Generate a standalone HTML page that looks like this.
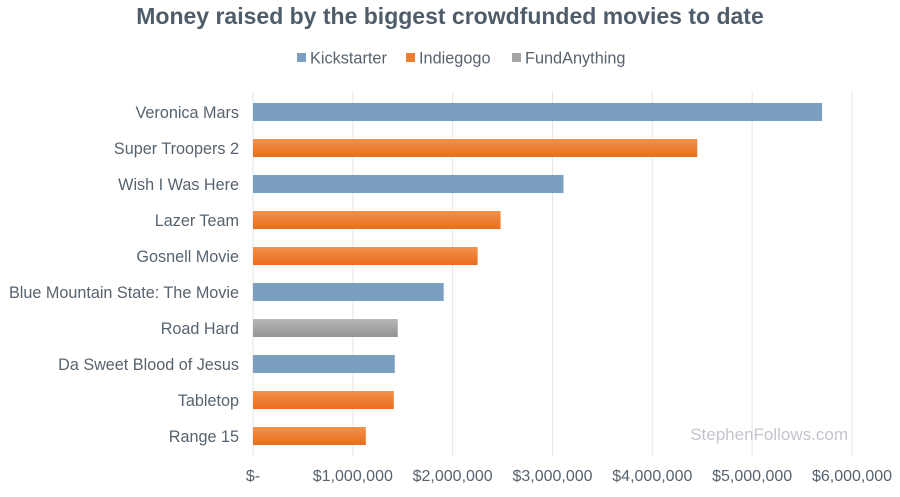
<!DOCTYPE html>
<html><head><meta charset="utf-8"><style>
body{margin:0;background:#fff;font-family:"Liberation Sans",sans-serif;}
svg text{font-family:"Liberation Sans",sans-serif;}
</style></head><body>
<svg id="c" width="900" height="492" viewBox="0 0 900 492">
<defs>
<linearGradient id="gO" x1="0" y1="0" x2="0" y2="1"><stop offset="0" stop-color="#f4914a"/><stop offset="1" stop-color="#e86e1c"/></linearGradient>
<linearGradient id="gG" x1="0" y1="0" x2="0" y2="1"><stop offset="0" stop-color="#b8b8b8"/><stop offset="1" stop-color="#929292"/></linearGradient>
</defs>
<text x="450" y="24" text-anchor="middle" font-size="23" font-weight="bold" fill="#4f5d6b">Money raised by the biggest crowdfunded movies to date</text>
<g id="legend"></g>
<g id="grid"></g><g id="bars"></g><g id="labels"></g>
<text x="848" y="440" text-anchor="end" font-size="17" fill="#c2c6cc">StephenFollows.com</text>
</svg>
<script>
const categories=["Veronica Mars","Super Troopers 2","Wish I Was Here","Lazer Team","Gosnell Movie","Blue Mountain State: The Movie","Road Hard","Da Sweet Blood of Jesus","Tabletop","Range 15"];
const values=[5700000,4450000,3110000,2480000,2250000,1910000,1450000,1420000,1410000,1130000];
const platforms=["Kickstarter","Indiegogo","Kickstarter","Indiegogo","Indiegogo","Kickstarter","FundAnything","Kickstarter","Indiegogo","Indiegogo"];
const seriesNames=["Kickstarter","Indiegogo","FundAnything"];
const ticks=[0,1000000,2000000,3000000,4000000,5000000,6000000];
const tickLabels=["$-","$1,000,000","$2,000,000","$3,000,000","$4,000,000","$5,000,000","$6,000,000"];
const NS="http://www.w3.org/2000/svg";
const fills={"Kickstarter":"#7a9fc0","Indiegogo":"url(#gO)","FundAnything":"url(#gG)"};
const legendFills={"Kickstarter":"#7a9fc0","Indiegogo":"#ee7d2f","FundAnything":"#a5a5a5"};
const x=v=>253+v/6000000*599;
const y=i=>103+i*36;
function mk(t,a,p){const e=document.createElementNS(NS,t);for(const k in a)e.setAttribute(k,a[k]);p.appendChild(e);return e;}
const grid=document.getElementById('grid'),bars=document.getElementById('bars'),labels=document.getElementById('labels'),leg=document.getElementById('legend');
ticks.forEach((t,i)=>{
 const l=mk('line',{x1:x(t),x2:x(t),y1:92,y2:456,stroke:'#e3e6ea','stroke-width':1},grid);
 
 
 const tx=mk('text',{x:x(t),y:481,'text-anchor':'middle','font-size':16,fill:'#56636f'},labels);
 tx.textContent=tickLabels[i];
 
 
});
categories.forEach((c,i)=>{
 const r=mk('rect',{x:x(0),y:y(i),width:x(values[i])-x(0),height:18,fill:fills[platforms[i]]},bars);
 
 
 const tx=mk('text',{x:239,y:y(i)+15,'text-anchor':'end','font-size':16.2,fill:'#56636f'},labels);
 tx.textContent=c;
 
 
});
const lx=[297,406,512];
seriesNames.forEach((s,i)=>{
 const g=mk('g',{},leg);
 
 
 mk('rect',{x:lx[i],y:53,width:9,height:9,fill:legendFills[s]},g);
 const t=mk('text',{x:lx[i]+13,y:63.5,'font-size':16.3,fill:'#56636f'},g);
 t.textContent=s;
});
</script>
</body></html>
